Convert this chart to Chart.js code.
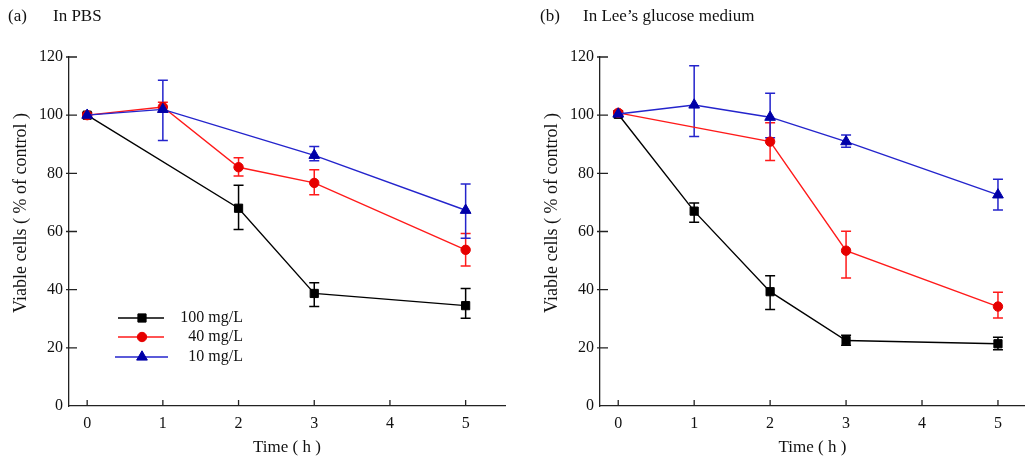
<!DOCTYPE html>
<html>
<head>
<meta charset="utf-8">
<script src="https://cdn.jsdelivr.net/npm/chart.js@4.4.1/dist/chart.umd.min.js"></script>
<style>
  body { margin: 0; background: #fff; }
  #wrap { position: relative; width: 1025px; height: 461px; overflow: hidden; }
  #graficoA { position: absolute; left: 0; top: 0; }
  #graficoB { position: absolute; left: 512px; top: 0; }
</style>
</head>
<body>
<div id="wrap">
  <canvas id="graficoA" width="512" height="461"></canvas>
  <canvas id="graficoB" width="513" height="461"></canvas>
</div>
<script>
// Tempos (h) e marcas dos eixos
var tempos = [0, 1, 2, 3, 5];
var xTicks = [0, 1, 2, 3, 4, 5];
var yTicks = [0, 20, 40, 60, 80, 100, 120];
var legendas = ['100 mg/L', '40 mg/L', '10 mg/L'];

// (a) In PBS - media e limites da barra de erro
var pbs100 = [100, null, 68, 38.7, 34.5];
var pbs100Hi = [100.8, null, 75.9, 42.4, 40.4];
var pbs100Lo = [99.2, null, 60.7, 34.2, 30.2];
var pbs40 = [100, 102.8, 82.1, 76.7, 53.7];
var pbs40Hi = [100.8, 104.4, 85.4, 81.2, 59.3];
var pbs40Lo = [99.2, 101.2, 79.1, 72.6, 48.1];
var pbs10 = [100, 102, null, 86.2, 67.3];
var pbs10Hi = [100.5, 112, null, 89.2, 76.3];
var pbs10Lo = [99.5, 91.3, null, 84.3, 57.7];

// (b) In Lee's glucose medium
var lee100 = [100.3, 67, 39.3, 22.5, 21.4];
var lee100Hi = [101, 69.8, 44.8, 24.3, 23.6];
var lee100Lo = [99.5, 63.2, 33.2, 20.9, 19.3];
var lee40 = [100.8, null, 90.9, 53.4, 34.2];
var lee40Hi = [101.5, null, 97.4, 60.1, 39.1];
var lee40Lo = [100, null, 84.4, 44, 30.3];
var lee10 = [100.4, 103.5, 99.3, 90.9, 72.6];
var lee10Hi = [101, 117, 107.5, 93.2, 78];
var lee10Lo = [99.8, 92.7, 92.2, 89, 67.4];

var fonte = 'Liberation Serif, Times New Roman, serif';

// estilos das series
var estilos = [
    { linha: '#000000', ponto: '#000000', forma: 'rect', raio: 5.8 },
    { linha: '#ff1a1a', ponto: '#e60000', forma: 'circle', raio: 4.7 },
    { linha: '#2424cc', ponto: '#0000a8', forma: 'triangle', raio: 6.2 }
];

function pontos(valores) {
    return tempos.map(function (t, i) { return { x: t, y: valores[i] }; });
}

function serie(i, valores, hi, lo) {
    var e = estilos[i];
    return {
        label: legendas[i],
        data: pontos(valores),
        errHi: hi,
        errLo: lo,
        borderColor: e.linha,
        borderWidth: 1.4,
        backgroundColor: e.ponto,
        pointBackgroundColor: e.ponto,
        pointBorderColor: e.ponto,
        pointBorderWidth: 1,
        pointStyle: e.forma,
        pointRadius: e.raio,
        spanGaps: true,
        tension: 0,
        order: 2 - i
    };
}

// barras de erro, marcas dos eixos, titulos e legenda
var extras = {
    id: 'extras',
    beforeDatasetsDraw: function (chart) {
        var ctx = chart.ctx;
        var xs = chart.scales.x, ys = chart.scales.y;
        ctx.save();
        chart.data.datasets.forEach(function (ds) {
            ctx.strokeStyle = ds.borderColor;
            ctx.lineWidth = 1.5;
            tempos.forEach(function (t, i) {
                if (ds.errHi[i] == null) return;
                var x = xs.getPixelForValue(t);
                var y1 = ys.getPixelForValue(ds.errHi[i]);
                var y2 = ys.getPixelForValue(ds.errLo[i]);
                ctx.beginPath();
                ctx.moveTo(x, y1); ctx.lineTo(x, y2);
                ctx.moveTo(x - 5, y1); ctx.lineTo(x + 5, y1);
                ctx.moveTo(x - 5, y2); ctx.lineTo(x + 5, y2);
                ctx.stroke();
            });
        });
        ctx.restore();
    },
    afterDraw: function (chart) {
        var ctx = chart.ctx;
        var xs = chart.scales.x, ys = chart.scales.y;
        var area = chart.chartArea;
        var op = chart.options.plugins.extras;
        ctx.save();
        ctx.strokeStyle = '#222';
        ctx.lineWidth = 1.3;
        ctx.beginPath();
        xTicks.forEach(function (v) {
            var x = xs.getPixelForValue(v);
            ctx.moveTo(x, area.bottom); ctx.lineTo(x, area.bottom - 6);
        });
        yTicks.forEach(function (v) {
            if (v === 0) return;
            var y = ys.getPixelForValue(v);
            ctx.moveTo(area.left - 3, y); ctx.lineTo(area.left + 8, y);
        });
        ctx.stroke();

        // titulo do painel
        ctx.fillStyle = '#111';
        ctx.font = '17px ' + fonte;
        ctx.textBaseline = 'middle';
        ctx.textAlign = 'left';
        ctx.fillText(op.letra, op.letraX, 17);
        ctx.fillText(op.titulo, op.tituloX, 17);

        // titulo do eixo y
        ctx.save();
        ctx.translate(area.left - 48, 213);
        ctx.rotate(-Math.PI / 2);
        ctx.textAlign = 'center';
        ctx.font = '18px ' + fonte;
        ctx.fillText('Viable cells ( % of control )', 0, 0);
        ctx.restore();

        // legenda
        if (op.legenda) {
            var linhasY = [318, 337, 357];
            ctx.font = '16px ' + fonte;
            chart.data.datasets.forEach(function (ds, i) {
                var y = linhasY[i];
                ctx.strokeStyle = ds.borderColor;
                ctx.lineWidth = 1.4;
                ctx.beginPath();
                ctx.moveTo(i === 2 ? 115 : 118, y); ctx.lineTo(i === 2 ? 168 : 164, y);
                ctx.stroke();
                ctx.fillStyle = ds.pointBackgroundColor;
                ctx.strokeStyle = ds.pointBorderColor;
                ctx.lineWidth = 1;
                Chart.helpers.drawPoint(ctx, { pointStyle: ds.pointStyle, radius: ds.pointRadius, borderWidth: 1 }, 142, y);
                ctx.fillStyle = '#111';
                ctx.textAlign = 'right';
                ctx.fillText(ds.label, 243, y);
            });
        }
        ctx.restore();
    }
};

function opcoes(xMax, padding, extrasOp) {
    return {
        responsive: false,
        animation: false,
        devicePixelRatio: 1,
        layout: { padding: padding, autoPadding: false },
        plugins: {
            legend: { display: false },
            tooltip: { enabled: false },
            extras: extrasOp
        },
        scales: {
            x: {
                type: 'linear',
                min: -0.24,
                max: xMax,
                afterBuildTicks: function (s) { s.ticks = xTicks.map(function (v) { return { value: v }; }); },
                afterFit: function (s) { s.height = 55; },
                grid: { display: false, drawTicks: false },
                border: { display: true, color: '#222', width: 1.3 },
                ticks: { color: '#111', padding: 8, font: { family: fonte, size: 16 } },
                title: { display: true, text: 'Time ( h )', color: '#111', padding: { top: 0, bottom: 3 }, font: { family: fonte, size: 17 } }
            },
            y: {
                min: 0,
                max: 120,
                afterBuildTicks: function (s) { s.ticks = yTicks.map(function (v) { return { value: v }; }); },
                afterFit: function (s) { s.width = 69; },
                grid: { display: false, drawTicks: false },
                border: { display: true, color: '#222', width: 1.3 },
                ticks: { color: '#111', padding: 6, font: { family: fonte, size: 16 } },
                title: { display: false }
            }
        }
    };
}

var graficoA = new Chart(document.getElementById('graficoA').getContext('2d'), {
    type: 'line',
    data: {
        datasets: [
            serie(0, pbs100, pbs100Hi, pbs100Lo),
            serie(1, pbs40, pbs40Hi, pbs40Lo),
            serie(2, pbs10, pbs10Hi, pbs10Lo)
        ]
    },
    options: opcoes(5.52, { left: 0, right: 7, top: 57, bottom: 0 },
        { letra: '(a)', letraX: 8, titulo: 'In PBS', tituloX: 53, legenda: true }),
    plugins: [extras]
});

var graficoB = new Chart(document.getElementById('graficoB').getContext('2d'), {
    type: 'line',
    data: {
        datasets: [
            serie(0, lee100, lee100Hi, lee100Lo),
            serie(1, lee40, lee40Hi, lee40Lo),
            serie(2, lee10, lee10Hi, lee10Lo)
        ]
    },
    options: opcoes(5.356, { left: 19, right: 0, top: 57, bottom: 0 },
        { letra: '(b)', letraX: 28, titulo: 'In Lee\u2019s glucose medium', tituloX: 71, legenda: false }),
    plugins: [extras]
});
</script>
</body>
</html>
